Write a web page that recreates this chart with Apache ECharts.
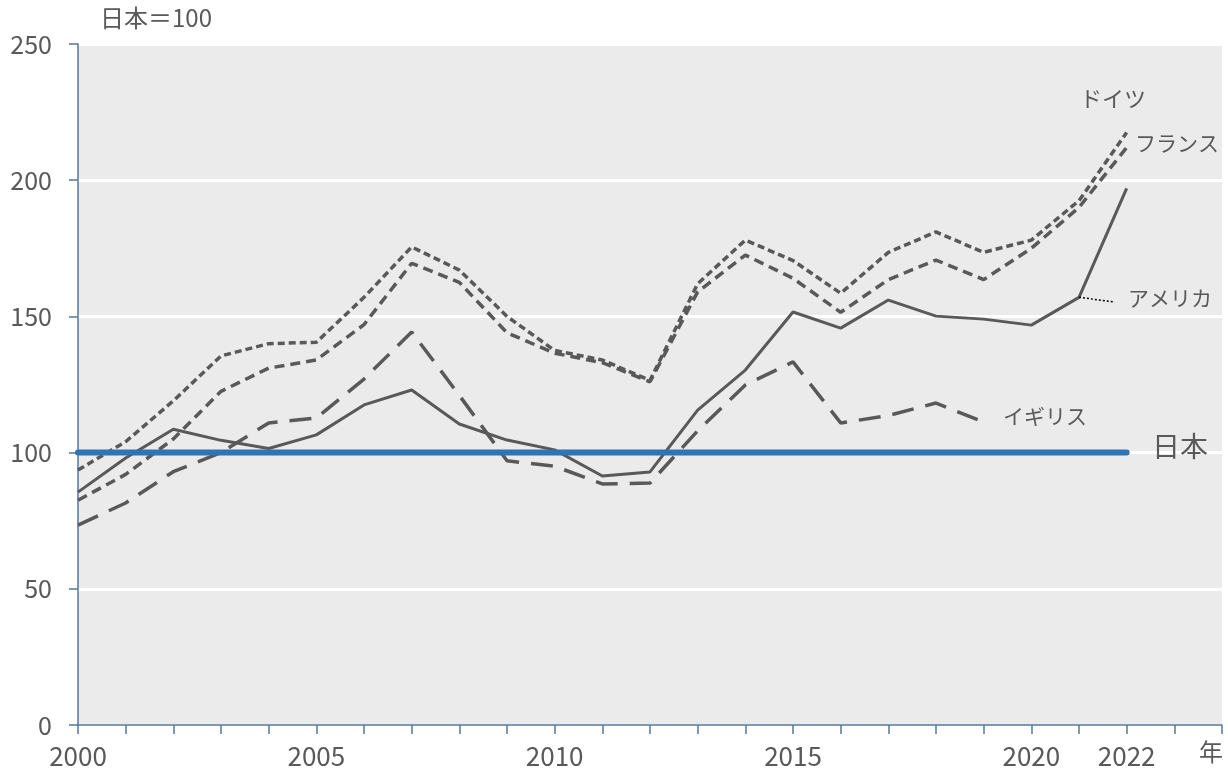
<!DOCTYPE html>
<html><head><meta charset="utf-8">
<script src="https://cdn.jsdelivr.net/npm/echarts@6/dist/echarts.min.js"></script>
<style>html,body{margin:0;padding:0;background:#fff}#c{width:1228px;height:776px}</style>
</head><body><div id="c"></div>
<script>
const years = [2000,2001,2002,2003,2004,2005,2006,2007,2008,2009,2010,2011,2012,2013,2014,2015,2016,2017,2018,2019,2020,2021,2022];
const germany = [93.6,104,119,135.5,140,140.5,157,175.5,167,150,137.5,134,126.5,162,178,170.5,158.5,173.5,181,173.5,178,192.5,217.5];
const france  = [82.5,92,105,122.5,131,134,147,169.5,162.5,144,136.5,133,126,159,172.5,164,151.5,163.5,170.7,163.5,175,190,212];
const usa     = [85.5,98,108.6,104.5,101.5,106.5,117.5,123,110.5,104.6,101,91.4,92.9,115.6,130.3,151.6,145.7,156,150.1,149,146.8,157,197];
const uk      = [73.4,81.5,93,100,110.9,112.7,127,144.3,121,97,95,88.5,88.8,108,124.8,133.3,110.9,113.6,118.2,111.2];
const japan   = years.map(() => 100);
const usaLeader = [[2021,157],[2021.75,155.3]];
const xLabels = [2000,2005,2010,2015,2020,2022];

const pair = (arr) => arr.map((v,i)=>[years[i], v]);
const grey = '#595959';
const axisCol = '#56779A';
const font = '"Noto Sans CJK JP", "Noto Sans", sans-serif';

const chart = echarts.init(document.getElementById('c'));
chart.setOption({
  animation:false,
  grid:{left:78,right:6,top:44,bottom:51,show:true,backgroundColor:'#EBEBEB',borderWidth:0},
  xAxis:{type:'value',min:2000,max:2024,interval:1,
    axisLine:{onZero:false,lineStyle:{color:axisCol,width:1.5}},
    axisTick:{show:true,length:9,lineStyle:{color:axisCol,width:1.5}},
    splitLine:{show:false},
    axisLabel:{margin:18,fontSize:26,color:grey,fontFamily:font,showMaxLabel:true,
      formatter:v=> xLabels.includes(v)? String(v):''}
  },
  yAxis:{type:'value',min:0,max:250,interval:50,
    axisLine:{show:true,lineStyle:{color:axisCol,width:1.5}},
    axisTick:{show:true,length:9,inside:false,lineStyle:{color:axisCol,width:1.5}},
    splitLine:{show:true,lineStyle:{color:'#ffffff',width:3}},
    axisLabel:{margin:26,fontSize:25,color:grey,fontFamily:font}
  },
  series:[
    {type:'line',data:pair(japan),symbol:'none',z:5,lineStyle:{color:'#2E75B6',width:6,cap:'round'}},
    {type:'line',data:pair(uk),symbol:'none',z:3,lineStyle:{color:grey,width:3.5,type:[22,12]}},
    {type:'line',data:pair(usa),symbol:'none',z:4,lineStyle:{color:grey,width:3}},
    {type:'line',data:pair(france),symbol:'none',z:3,lineStyle:{color:grey,width:3.5,type:[10,6]}},
    {type:'line',data:pair(germany),symbol:'none',z:3,lineStyle:{color:grey,width:3.5,type:[7,4]}},
    {type:'line',data:usaLeader,symbol:'none',z:4,lineStyle:{color:'#000',width:1.5,type:[2,2]}}
  ],
  graphic:[
    {type:'text',z:100,left:100,top:6,style:{text:'日本＝100',fontSize:24,fill:grey,fontFamily:font}},
    {type:'text',z:100,left:1199,top:740,style:{text:'年',fontSize:24,fill:grey,fontFamily:font}},
    {type:'text',z:100,left:1080,top:88,style:{text:'ドイツ',fontSize:22,fill:grey,fontFamily:font}},
    {type:'text',z:100,left:1135,top:133,style:{text:'フランス',fontSize:21,fill:grey,fontFamily:font}},
    {type:'text',z:100,left:1128,top:288,style:{text:'アメリカ',fontSize:21,fill:grey,fontFamily:font}},
    {type:'text',z:100,left:1003,top:406,style:{text:'イギリス',fontSize:21,fill:grey,fontFamily:font}},
    {type:'text',z:100,left:1152,top:432,style:{text:'日本',fontSize:28,fill:grey,fontFamily:font}}
  ]
});
</script></body></html>
